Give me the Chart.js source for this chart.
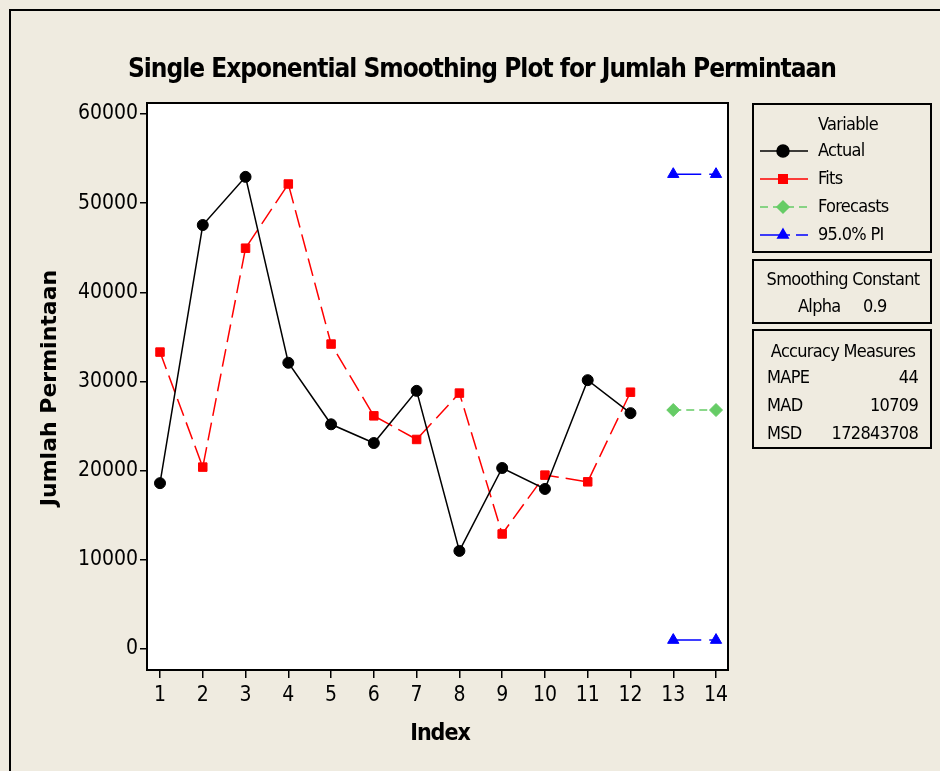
<!DOCTYPE html>
<html>
<head>
<meta charset="utf-8">
<script src="https://cdn.jsdelivr.net/npm/chart.js@4.4.1/dist/chart.umd.min.js"></script>
<style>
  html, body { margin: 0; padding: 0; background: #EFEBE0; }
  #wrap { width: 940px; height: 771px; position: relative; }
</style>
</head>
<body>
<div id="wrap"><canvas id="myChart" width="940" height="771"></canvas></div>
<script>
// data
var indexActual = [1, 2, 3, 4, 5, 6, 7, 8, 9, 10, 11, 12];
var actual = [18600, 47550, 52950, 32100, 25200, 23100, 28950, 11000, 20300, 17950, 30150, 26450];
var fits = [33300, 20400, 44950, 52150, 34200, 26150, 23500, 28700, 12900, 19500, 18750, 28800];
var indexForecast = [13, 14];
var forecasts = [26800, 26800];
var upperPI = [53250, 53250];
var lowerPI = [1000, 1000];
var xTicks = [1, 2, 3, 4, 5, 6, 7, 8, 9, 10, 11, 12, 13, 14];
var yTicks = [0, 10000, 20000, 30000, 40000, 50000, 60000];

var accuracy = [["MAPE", "44"], ["MAD", "10709"], ["MSD", "172843708"]];
var alpha = "0.9";

var narrow = "'DejaVu Sans Condensed', 'Liberation Sans Narrow', sans-serif";

function pts(xs, ys) {
    return xs.map(function (x, i) { return { x: x, y: ys[i] }; });
}

// zeichnet Rahmen, Titel, Achsentitel und die Kaesten rechts
var extras = {
    id: 'extras',
    beforeDraw: function (chart) {
        var c = chart.ctx;
        var a = chart.chartArea;
        c.save();
        c.fillStyle = '#EFEBE0';
        c.fillRect(0, 0, chart.width, chart.height);
        c.strokeStyle = '#000';
        c.lineWidth = 2;
        c.beginPath();
        c.moveTo(10, chart.height);
        c.lineTo(10, 10);
        c.lineTo(chart.width, 10);
        c.stroke();
        c.fillStyle = '#fff';
        c.fillRect(a.left, a.top, a.right - a.left, a.bottom - a.top);
        c.restore();
    },
    afterDraw: function (chart) {
        var c = chart.ctx;
        var a = chart.chartArea;
        c.save();
        c.strokeStyle = '#000';
        c.lineWidth = 2;
        c.strokeRect(a.left, a.top, a.right - a.left, a.bottom - a.top);

        // Titel
        c.fillStyle = '#000';
        c.textAlign = 'center';
        c.textBaseline = 'alphabetic';
        c.font = "bold 26px " + narrow;
        c.letterSpacing = '-1px';
        c.fillText("Single Exponential Smoothing Plot for Jumlah Permintaan", 482, 77);

        // Achsentitel
        c.font = "bold 23px " + narrow;
        c.letterSpacing = '-1px';
        c.fillText("Index", 440, 740);
        c.save();
        c.translate(56, 388);
        c.rotate(-Math.PI / 2);
        c.letterSpacing = '0px';
        c.font = "bold 22px 'DejaVu Sans', sans-serif";
        c.fillText("Jumlah Permintaan", 0, 0);
        c.restore();

        // Kaesten
        c.lineWidth = 2;
        c.strokeRect(753, 104, 178, 148);
        c.strokeRect(753, 260, 178, 63);
        c.strokeRect(753, 330, 178, 118);

        c.font = "18px " + narrow;
        c.letterSpacing = '-0.7px';
        c.textBaseline = 'middle';
        c.textAlign = 'center';
        c.fillText("Variable", 848, 125);

        var rows = [
            { t: "Actual", col: '#000', dash: [], m: 'circle', y: 151 },
            { t: "Fits", col: '#FF0000', dash: [], m: 'rect', y: 179 },
            { t: "Forecasts", col: '#66CC66', dash: [8, 5], m: 'rectRot', y: 207 },
            { t: "95.0% PI", col: '#0000FF', dash: [30, 6], m: 'triangle', y: 235 }
        ];
        rows.forEach(function (r) {
            c.strokeStyle = r.col;
            c.fillStyle = r.col;
            c.lineWidth = 1.5;
            c.setLineDash(r.dash);
            c.beginPath();
            c.moveTo(760, r.y);
            c.lineTo(808, r.y);
            c.stroke();
            c.setLineDash([]);
            Chart.helpers.drawPoint(c, { pointStyle: r.m, radius: 6, borderWidth: 1 }, 783, r.y);
            c.fillStyle = '#000';
            c.textAlign = 'left';
            c.fillText(r.t, 818, r.y);
        });

        c.textAlign = 'center';
        c.fillText("Smoothing Constant", 843, 280);
        c.textAlign = 'left';
        c.fillText("Alpha", 798, 307);
        c.fillText(alpha, 863, 307);

        c.textAlign = 'center';
        c.fillText("Accuracy Measures", 843, 352);
        accuracy.forEach(function (m, i) {
            var y = 378 + i * 28;
            c.textAlign = 'left';
            c.fillText(m[0], 767, y);
            c.textAlign = 'right';
            c.fillText(m[1], 918, y);
        });
        c.restore();
    }
};

var ctx = document.getElementById('myChart').getContext('2d');
var myChartInstance = new Chart(ctx, {
    type: 'line',
    data: {
        datasets: [{
            label: "Actual",
            data: pts(indexActual, actual),
            borderColor: '#000',
            backgroundColor: '#000',
            borderWidth: 1.5,
            pointStyle: 'circle',
            pointRadius: 5.5,
            pointBorderWidth: 1
        }, {
            label: "Fits",
            data: pts(indexActual, fits),
            borderColor: '#FF0000',
            backgroundColor: '#FF0000',
            borderWidth: 1.5,
            borderDash: [18, 7],
            pointStyle: 'rect',
            pointRadius: 6,
            pointBorderWidth: 1
        }, {
            label: "Forecasts",
            data: pts(indexForecast, forecasts),
            borderColor: '#66CC66',
            backgroundColor: '#66CC66',
            borderWidth: 1.5,
            borderDash: [8, 5],
            pointStyle: 'rectRot',
            pointRadius: 6.5,
            pointBorderWidth: 1
        }, {
            label: "95.0% PI",
            data: pts(indexForecast, upperPI),
            borderColor: '#0000FF',
            backgroundColor: '#0000FF',
            borderWidth: 1.5,
            borderDash: [28, 8],
            pointStyle: 'triangle',
            pointRadius: 6.5,
            pointBorderWidth: 1
        }, {
            label: "95.0% PI lower",
            data: pts(indexForecast, lowerPI),
            borderColor: '#0000FF',
            backgroundColor: '#0000FF',
            borderWidth: 1.5,
            borderDash: [28, 8],
            pointStyle: 'triangle',
            pointRadius: 6.5,
            pointBorderWidth: 1
        }]
    },
    options: {
        responsive: false,
        animation: false,
        layout: { padding: { left: 0, right: 212, top: 103, bottom: 0 } },
        scales: {
            x: {
                type: 'linear',
                min: 0.696,
                max: 14.28,
                afterBuildTicks: function (s) { s.ticks = xTicks.map(function (v) { return { value: v }; }); },
                afterFit: function (s) { s.height = 101; },
                grid: { drawOnChartArea: false, color: '#000', tickLength: 8, lineWidth: 1.5 },
                border: { display: false },
                ticks: {
                    color: '#000',
                    padding: 5,
                    maxRotation: 0,
                    font: { family: narrow, size: 21 }
                }
            },
            y: {
                min: -2355,
                max: 61234,
                afterBuildTicks: function (s) { s.ticks = yTicks.map(function (v) { return { value: v }; }); },
                afterFit: function (s) { s.width = 147; },
                grid: { drawOnChartArea: false, color: '#000', tickLength: 7, lineWidth: 1.5 },
                border: { display: false },
                ticks: {
                    color: '#000',
                    padding: 2,
                    font: { family: narrow, size: 21 },
                    callback: function (v) { return String(v); }
                }
            }
        },
        plugins: {
            legend: { display: false },
            tooltip: { enabled: false }
        }
    },
    plugins: [extras]
});
</script>
</body>
</html>
